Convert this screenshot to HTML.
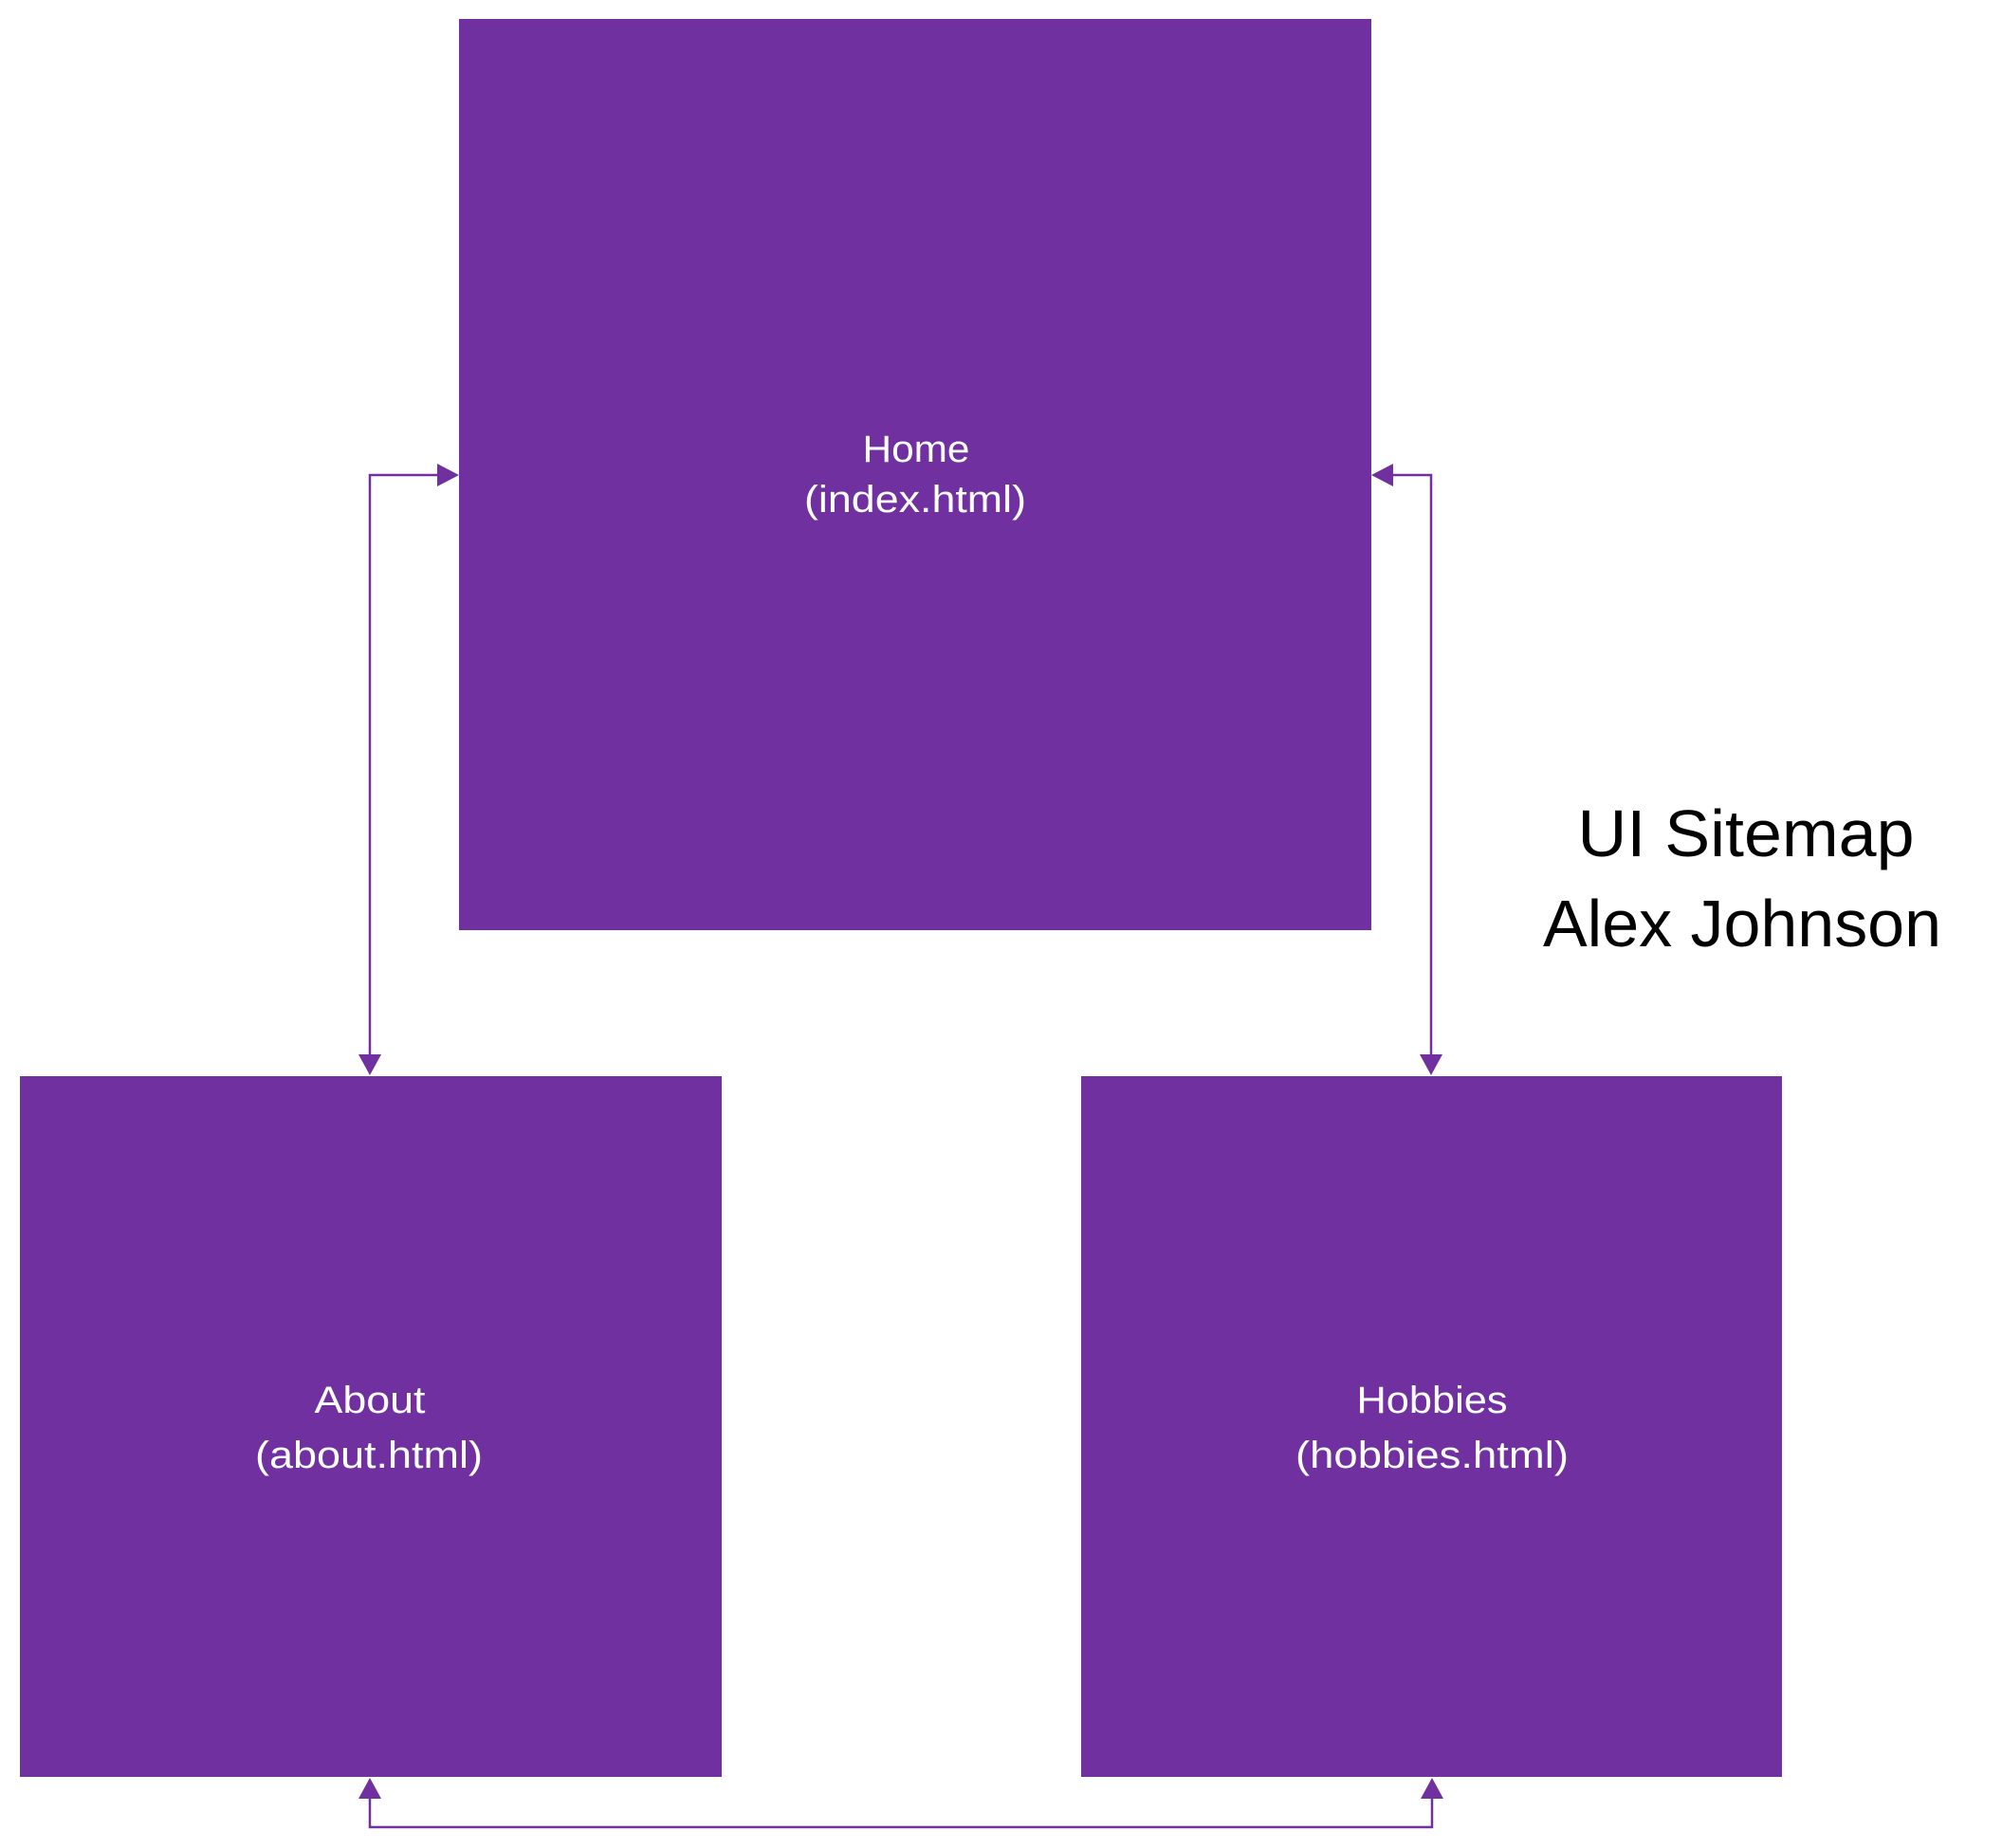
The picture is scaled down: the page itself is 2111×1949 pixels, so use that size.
<!DOCTYPE html>
<html><head><meta charset="utf-8"><style>
html,body{margin:0;padding:0;background:#fff;}
svg{display:block;}
text{font-family:"Liberation Sans",sans-serif;}
</style></head><body>
<svg width="2111" height="1949" viewBox="0 0 2111 1949" xmlns="http://www.w3.org/2000/svg">
<rect x="0" y="0" width="2111" height="1949" fill="#fff"/>
<rect x="484" y="20" width="962" height="961" fill="#7030A0"/>
<rect x="21" y="1135" width="740" height="739" fill="#7030A0"/>
<rect x="1140" y="1135" width="739" height="739" fill="#7030A0"/>
<g stroke="#7030A0" stroke-width="2.5" fill="none">
<polyline points="462,501 390,501 390,1113"/>
<polyline points="1468,501 1509,501 1509,1113"/>
<polyline points="390,1897 390,1927 1510,1927 1510,1897"/>
</g>
<g fill="#7030A0">
<polygon points="484,501 461,489 461,513"/>
<polygon points="1446,501 1469,489 1469,513"/>
<polygon points="390,1134 378,1112 402,1112"/>
<polygon points="1509,1134 1497,1112 1521,1112"/>
<polygon points="390,1875 378,1897 402,1897"/>
<polygon points="1510,1875 1498,1897 1522,1897"/>
</g>
<g fill="#fff" font-size="40" text-anchor="middle">
<text x="966" y="487" textLength="113" lengthAdjust="spacingAndGlyphs">Home</text>
<text x="965" y="540" textLength="234" lengthAdjust="spacingAndGlyphs">(index.html)</text>
<text x="390" y="1490" textLength="117" lengthAdjust="spacingAndGlyphs">About</text>
<text x="389" y="1548" textLength="240" lengthAdjust="spacingAndGlyphs">(about.html)</text>
<text x="1510" y="1490" textLength="159" lengthAdjust="spacingAndGlyphs">Hobbies</text>
<text x="1510" y="1548" textLength="288" lengthAdjust="spacingAndGlyphs">(hobbies.html)</text>
</g>
<g fill="#000" font-size="70" text-anchor="middle">
<text x="1841" y="903" textLength="355" lengthAdjust="spacingAndGlyphs">UI Sitemap</text>
<text x="1837" y="998" textLength="420" lengthAdjust="spacingAndGlyphs">Alex Johnson</text>
</g>
</svg>
</body></html>
